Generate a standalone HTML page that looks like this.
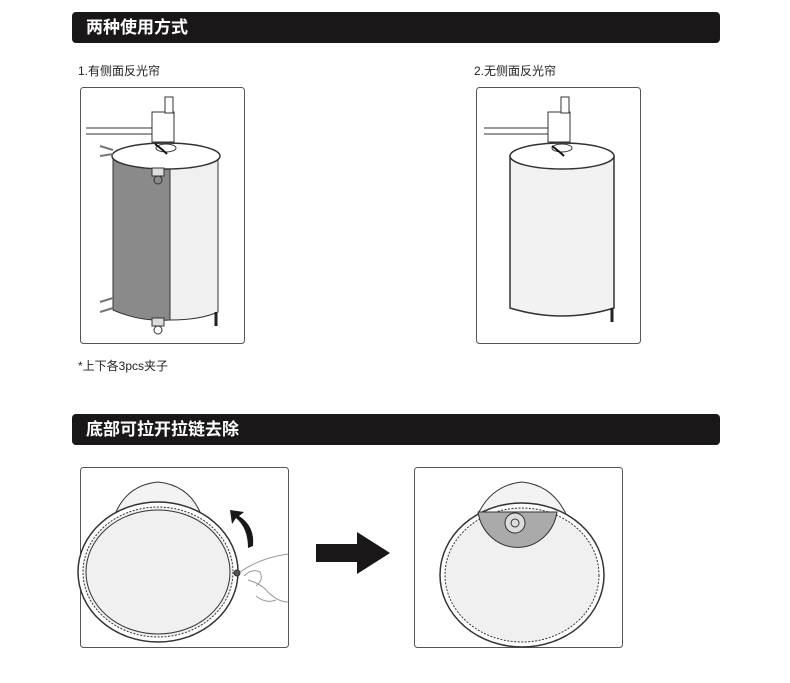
<!DOCTYPE html>
<html><head><meta charset="utf-8"><style>
body{margin:0;background:#fff;width:790px;height:683px;overflow:hidden;font-family:"Liberation Sans","Noto Sans CJK SC",sans-serif}
.bar{position:absolute;left:72px;width:648px;height:31px;background:#1a1718;border-radius:4px;color:#fff;font-size:17px;font-weight:bold;line-height:31px;padding-left:14px;box-sizing:border-box}
.t{position:absolute;font-size:12px;color:#222}
</style></head><body>
<div class="bar" style="top:12px">两种使用方式</div>
<div class="t" style="left:78px;top:62px">1.有侧面反光帘</div>
<div class="t" style="left:474px;top:62px">2.无侧面反光帘</div>
<div class="t" style="left:78px;top:357px">*上下各3pcs夹子</div>
<div class="bar" style="top:414px">底部可拉开拉链去除</div>
<svg width="790" height="683" style="position:absolute;left:0;top:0" fill="none" stroke="#333">
<rect x="80.5" y="87.5" width="164" height="256" rx="3" stroke="#555"/>
<rect x="476.5" y="87.5" width="164" height="256" rx="3" stroke="#555"/>
<rect x="80.5" y="467.5" width="208" height="180" rx="3" stroke="#555"/>
<rect x="414.5" y="467.5" width="208" height="180" rx="3" stroke="#555"/>
<!-- cylinder 1 -->
<path d="M113 158 L113 310 Q140 322 170 320 L170 168 Q140 168 113 158Z" fill="#8a8a8a"/>
<path d="M170 168 Q200 166 218 158 L218 312 Q200 320 170 320Z" fill="#f0f0f0"/>
<ellipse cx="166" cy="156" rx="54" ry="13" fill="#fff" stroke-width="1.5"/>
<ellipse cx="166" cy="148" rx="10" ry="4"/>
<rect x="152" y="112" width="22" height="30" fill="#fff"/><rect x="165" y="97" width="8" height="16" fill="#fff"/>
<path d="M86 128 H152 M86 134 H152"/>
<path d="M155 144 q8 6 12 10" stroke="#111" stroke-width="2"/>
<path d="M100 146 l13 4 M100 156 l13 -2 M100 302 l13 -4 M100 312 l13 -4" stroke-width="2" stroke="#777"/>
<circle cx="158" cy="180" r="4" /><circle cx="158" cy="330" r="4"/><rect x="152" y="168" width="12" height="8" fill="#ddd"/><rect x="152" y="318" width="12" height="8" fill="#ddd"/>
<path d="M216 312 v14" stroke="#222" stroke-width="3"/>
<!-- cylinder 2 -->
<path d="M510 156 L510 308 Q562 324 614 308 L614 156Z" fill="#f2f2f2" stroke-width="1.5"/>
<ellipse cx="562" cy="156" rx="52" ry="13" fill="#fff" stroke-width="1.5"/>
<ellipse cx="562" cy="148" rx="10" ry="4"/>
<rect x="548" y="112" width="22" height="30" fill="#fff"/><rect x="561" y="97" width="8" height="16" fill="#fff"/>
<path d="M484 128 H548 M484 134 H548"/>
<path d="M552 146 q8 6 12 10" stroke="#111" stroke-width="2"/>
<path d="M612 308 v14" stroke="#222" stroke-width="3"/>
<!-- box3 -->
<path d="M116 512 Q128 485 158 482 Q188 485 200 512" fill="#f3f3f3"/>
<ellipse cx="158" cy="572" rx="80" ry="70" fill="#fff" stroke-width="1.5"/>
<ellipse cx="158" cy="572" rx="75" ry="65" fill="#f0f0f0" stroke-dasharray="2 1.5"/>
<ellipse cx="158" cy="572" rx="72" ry="62"/>
<path d="M248 548 q0 -20 -12 -30 l-4 6 -2 -14 14 2 -5 4 q16 10 14 30z" fill="#1a1718" stroke="none"/>
<path d="M240 572 q20 -14 48 -18 M248 580 q14 4 20 12 q10 10 20 10 M244 576 q8 -8 16 -4 q4 8 -4 14 M256 596 q10 8 20 4" stroke="#999"/>
<circle cx="237" cy="573" r="3" fill="#555"/>
<!-- arrow -->
<path d="M316 544 H357 V532 L390 553 L357 574 V562 H316Z" fill="#1a1718" stroke="none"/>
<!-- box4 -->
<path d="M478 514 Q492 485 522 482 Q552 485 566 514" fill="#f3f3f3"/>
<ellipse cx="522" cy="575" rx="82" ry="72" fill="#fff" stroke-width="1.5"/>
<ellipse cx="522" cy="575" rx="77" ry="67" fill="#f0f0f0" stroke-dasharray="2 1.5"/>
<path d="M478 512 A40 42 0 0 0 557 512Z" fill="#aaa"/>
<circle cx="515" cy="523" r="10" fill="#ddd"/><circle cx="515" cy="523" r="4"/>
</svg>
</body></html>
